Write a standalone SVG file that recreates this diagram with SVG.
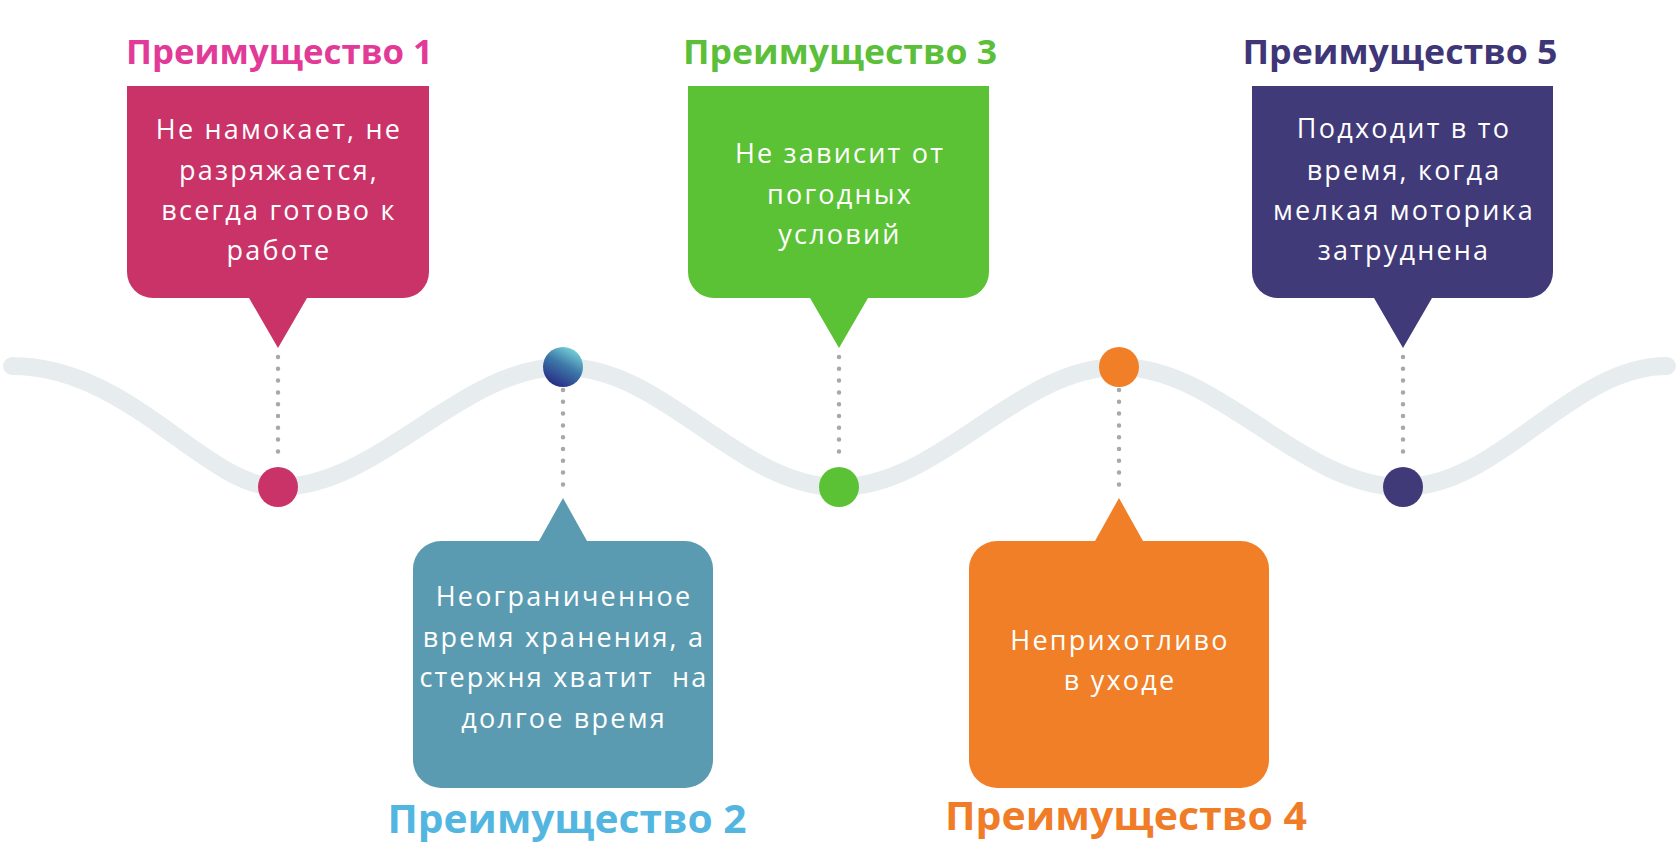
<svg xmlns="http://www.w3.org/2000/svg" width="1680" height="867" viewBox="0 0 1680 867">
<style>
.title{font-family:"Open Sans","Liberation Sans",sans-serif;font-weight:700;text-anchor:middle}
.t-top{font-size:34px}
.t-bot{font-size:39px}
.body{font-family:"Open Sans","Liberation Sans",sans-serif;font-weight:400;font-size:27px;letter-spacing:2.2px;fill:#ffffff;text-anchor:middle}
.conn{fill:none;stroke:#a7a7ad;stroke-width:4.5;stroke-linecap:round;stroke-dasharray:0 11.8}
.wave{fill:none;stroke:#e7edef;stroke-width:18;stroke-linecap:round}
</style>
<defs>
<linearGradient id="g2" x1="0.85" y1="0.05" x2="0.35" y2="0.95">
<stop offset="0" stop-color="#7ad8da"/>
<stop offset="0.5" stop-color="#3d78a8"/>
<stop offset="1" stop-color="#283389"/>
</linearGradient>
</defs>
<rect width="1680" height="867" fill="#ffffff"/>
<path class="wave" d="M12,366 C130,366 205,487 278,487 C380,487 460,367 563,367 C665,367 738,487 839,487 C940,487 1017,367 1119,367 C1220,367 1300,487 1403,487 C1500,487 1570,366 1667,366"/>
<g id="connectors">
<line class="conn" x1="278" y1="357" x2="278" y2="463"/>
<line class="conn" x1="563" y1="390" x2="563" y2="496"/>
<line class="conn" x1="839" y1="357" x2="839" y2="463"/>
<line class="conn" x1="1119" y1="390" x2="1119" y2="496"/>
<line class="conn" x1="1403" y1="357" x2="1403" y2="463"/>
</g>
<g id="node1">
<text class="title t-top" x="279.5" y="64" fill="#e23b97" textLength="307" lengthAdjust="spacingAndGlyphs">Преимущество 1</text>
<path d="M127,86 H429 V272 A26,26 0 0 1 403,298 H307 L278,348 L249,298 H153 A26,26 0 0 1 127,272 Z" fill="#c93368"/>
<text class="body" x="279" y="139">Не намокает, не</text>
<text class="body" x="279" y="180">разряжается,</text>
<text class="body" x="279" y="220">всегда готово к</text>
<text class="body" x="279" y="260">работе</text>
<circle cx="278" cy="487" r="20" fill="#c93368"/>
</g>
<g id="node2">
<path d="M441,541 H539 L563,498 L587,541 H685 A28,28 0 0 1 713,569 V760 A28,28 0 0 1 685,788 H441 A28,28 0 0 1 413,760 V569 A28,28 0 0 1 441,541 Z" fill="#5b9bb1"/>
<text class="body" x="564" y="606">Неограниченное</text>
<text class="body" x="564" y="647">время хранения, а</text>
<text class="body" x="564" y="687" xml:space="preserve">стержня хватит  на</text>
<text class="body" x="564" y="728">долгое время</text>
<text class="title t-bot" x="567" y="833" fill="#52b6e0" textLength="359" lengthAdjust="spacingAndGlyphs">Преимущество 2</text>
<circle cx="563" cy="367" r="20" fill="url(#g2)"/>
</g>
<g id="node3">
<text class="title t-top" x="840" y="64" fill="#5cbf3a" textLength="314" lengthAdjust="spacingAndGlyphs">Преимущество 3</text>
<path d="M688,86 H989 V272 A26,26 0 0 1 963,298 H868 L839,348 L810,298 H714 A26,26 0 0 1 688,272 Z" fill="#5bc236"/>
<text class="body" x="840" y="163">Не зависит от</text>
<text class="body" x="840" y="204">погодных</text>
<text class="body" x="840" y="244">условий</text>
<circle cx="839" cy="487" r="20" fill="#5bc236"/>
</g>
<g id="node4">
<path d="M997,541 H1095 L1119,498 L1143,541 H1241 A28,28 0 0 1 1269,569 V760 A28,28 0 0 1 1241,788 H997 A28,28 0 0 1 969,760 V569 A28,28 0 0 1 997,541 Z" fill="#f07f27"/>
<text class="body" x="1120" y="650">Неприхотливо</text>
<text class="body" x="1120" y="690">в уходе</text>
<text class="title t-bot" x="1126" y="830" fill="#f07c28" textLength="362" lengthAdjust="spacingAndGlyphs">Преимущество 4</text>
<circle cx="1119" cy="367" r="20" fill="#f07f27"/>
</g>
<g id="node5">
<text class="title t-top" x="1400" y="64" fill="#3f3677" textLength="315" lengthAdjust="spacingAndGlyphs">Преимущество 5</text>
<path d="M1252,86 H1553 V272 A26,26 0 0 1 1527,298 H1432 L1403,348 L1374,298 H1278 A26,26 0 0 1 1252,272 Z" fill="#413a78"/>
<text class="body" x="1404" y="138">Подходит в то</text>
<text class="body" x="1404" y="180">время, когда</text>
<text class="body" x="1404" y="220">мелкая моторика</text>
<text class="body" x="1404" y="260">затруднена</text>
<circle cx="1403" cy="487" r="20" fill="#413a78"/>
</g>
</svg>
